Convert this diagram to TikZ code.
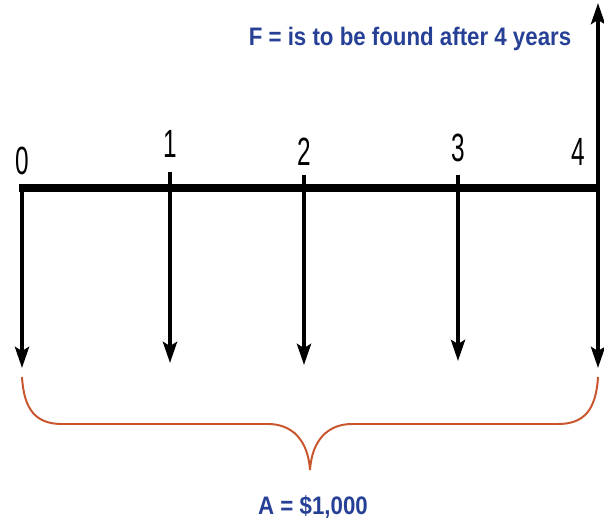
\documentclass[tikz,border=0pt]{standalone}
\usepackage{fontspec}
\newfontfamily\digitfont{Liberation Sans}[FakeStretch=0.62]
\newfontfamily\notefont{Liberation Sans}[FakeStretch=0.88]
\usepackage{xcolor}
\definecolor{NoteBlue}{RGB}{38,64,150}
\definecolor{BraceRed}{RGB}{200,85,45}
\usepackage{tikz}
\usetikzlibrary{arrows.meta, positioning, calc}
\tikzset{
  % time axis
  axisline/.style={line width=5pt, black},
  % cash flow arrows
  flow/.style={line width=2.8pt, black, -{Stealth[length=15pt,width=10pt,inset=3pt]}},
  % period numbers
  period/.style={anchor=base, inner sep=0pt, font=\digitfont\fontsize{28pt}{28pt}\selectfont},
  % blue notes
  note/.style={anchor=base, inner sep=0pt, text=NoteBlue,
    font=\notefont\bfseries\fontsize{18pt}{18pt}\selectfont},
  brace/.style={line width=1.4pt, BraceRed},
}

\begin{document}
\begin{tikzpicture}[x=0.025cm, y=-0.025cm]
  \useasboundingbox (0,0) rectangle (604,518);

  %% Points on the axis
  \coordinate (t0) at (22,188);
  \coordinate (t1) at (170,188);
  \coordinate (t2) at (304,188);
  \coordinate (t3) at (458,188);
  \coordinate (t4) at (598,188);
  \coordinate (axstart) at (19,188);

  %% Axis
  \draw[axisline] (axstart) -- (t4);

  %% Payments A, one at each period
  \foreach \i/\x/\top/\bot in {0/22/188/368, 1/170/172/363, 2/304/175/365,
                               3/458/175/361, 4/598/188/368}{
    \coordinate (s\i) at (\x,\top);
    \coordinate (e\i) at (\x,\bot);
    \draw[flow] (s\i) -- (e\i);
  }

  %% Future value F
  \coordinate (ftop) at (598,3);
  \draw[flow] (t4) -- (ftop);

  %% Period numbers
  \foreach \i/\x/\y in {0/22/174, 1/170/157, 2/304/166, 3/458/161, 4/578/166}{
    \node[period] (p\i) at (\x,\y) {\i};
  }

  %% Notes
  \node[note] (fnote) at (410,46) {F = is to be found after 4 years};
  \node[note] (anote) at (313,514) {A = \$1,000};

  %% Brace under the payments
  \coordinate (bl) at (22,377);
  \coordinate (br) at (598,377);
  \coordinate (tip) at (310,470);
  \draw[brace] (bl) .. controls (24,410) and (36,424) .. (62,424)
    -- (268,424) .. controls (292,424) and (308,440) .. (tip)
    .. controls (312,440) and (328,424) .. (352,424)
    -- (558,424) .. controls (584,424) and (596,410) .. (br);
\end{tikzpicture}
\end{document}
